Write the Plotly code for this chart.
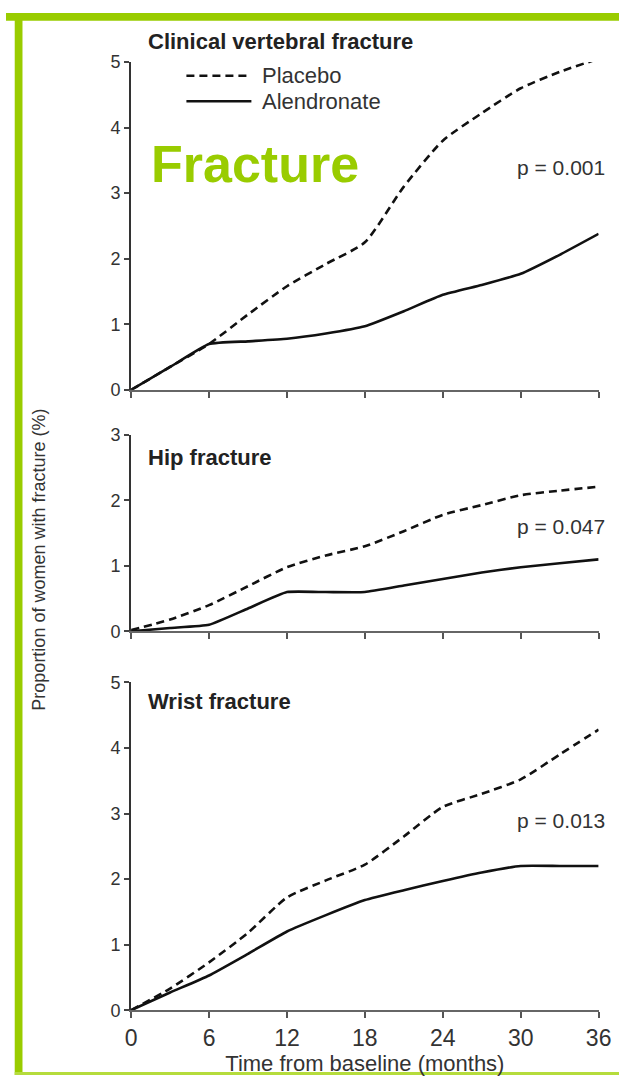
import plotly.graph_objects as go

# ---------------- data ----------------
months = [0, 3, 6, 9, 12, 15, 18, 21, 24, 27, 30, 33, 36]
x_ticks = [0, 6, 12, 18, 24, 30, 36]

vert_placebo = [0, 0.35, 0.7, 1.15, 1.58, 1.92, 2.25, 3.1, 3.8, 4.22, 4.6, 4.85, 5.05]
vert_alendronate = [0, 0.35, 0.7, 0.74, 0.78, 0.86, 0.97, 1.2, 1.45, 1.6, 1.77, 2.06, 2.38]

hip_placebo = [0.02, 0.18, 0.4, 0.69, 0.98, 1.16, 1.3, 1.53, 1.78, 1.93, 2.08, 2.15, 2.21]
hip_alendronate = [0, 0.05, 0.1, 0.35, 0.6, 0.6, 0.6, 0.7, 0.8, 0.9, 0.98, 1.04, 1.1]

wrist_placebo = [0, 0.33, 0.73, 1.18, 1.72, 1.98, 2.22, 2.65, 3.1, 3.3, 3.52, 3.9, 4.28]
wrist_alendronate = [0, 0.27, 0.53, 0.86, 1.2, 1.45, 1.68, 1.83, 1.97, 2.1, 2.2, 2.2, 2.2]

panel_titles = ["Clinical vertebral fracture", "Hip fracture", "Wrist fracture"]
p_values = ["p = 0.001", "p = 0.047", "p = 0.013"]
y_maxes = [5, 3, 5]
series_names = ["Placebo", "Alendronate"]

# ---------------- layout helpers ----------------
W, H = 632, 1085
def px(x):
    return x / W
def py(y):
    return 1 - y / H

FONT = "Liberation Sans, Arial, sans-serif"
GREEN = "#99cc00"

# pixel extents of each panel (top, bottom) and the shared x extent
panel_pix = [(53, 387), (433, 633), (685, 1019)]
x_left, x_right = 129, 611

fig = go.Figure()
panels = [(vert_placebo, vert_alendronate), (hip_placebo, hip_alendronate),
          (wrist_placebo, wrist_alendronate)]

for i, (plac, alen) in enumerate(panels):
    xa = "x" if i == 0 else f"x{i+1}"
    ya = "y" if i == 0 else f"y{i+1}"
    fig.add_trace(go.Scatter(x=months, y=plac, mode="lines", name=series_names[0],
                             line=dict(color="#111", width=2.6, dash="8px,5px",
                                       shape="spline", smoothing=0.6),
                             xaxis=xa, yaxis=ya, showlegend=False))
    fig.add_trace(go.Scatter(x=months, y=alen, mode="lines", name=series_names[1],
                             line=dict(color="#111", width=2.6, shape="spline", smoothing=0.4),
                             xaxis=xa, yaxis=ya, showlegend=False))

layout = dict(width=W, height=H, margin=dict(l=0, r=0, t=0, b=0),
              paper_bgcolor="white", plot_bgcolor="white", showlegend=False)

for i in range(3):
    top, bot = panel_pix[i]
    xkey = "xaxis" if i == 0 else f"xaxis{i+1}"
    ykey = "yaxis" if i == 0 else f"yaxis{i+1}"
    yname = "y" if i == 0 else f"y{i+1}"
    xname = "x" if i == 0 else f"x{i+1}"
    layout[xkey] = dict(domain=[px(x_left), px(x_right)], range=[0, 36],
                        anchor=yname, tickvals=x_ticks, ticktext=[str(t) for t in x_ticks],
                        showticklabels=(i == 2), ticks="outside", ticklen=6, tickwidth=2,
                        tickcolor="#555", showline=True, linecolor="#666", linewidth=2,
                        showgrid=False, zeroline=False,
                        tickfont=dict(family=FONT, size=23, color="#333"))
    layout[ykey] = dict(domain=[py(bot), py(top)], range=[0, y_maxes[i]], anchor=xname,
                        tickvals=list(range(y_maxes[i] + 1)), ticks="outside", ticklen=5,
                        tickwidth=1.5, tickcolor="#444", showline=True, linecolor="#333",
                        linewidth=2, showgrid=False, zeroline=False,
                        tickfont=dict(family=FONT, size=18, color="#333"))

layout["xaxis3"]["title"] = dict(text="Time from baseline (months)",
                                 font=dict(family=FONT, size=22, color="#333"), standoff=4)
fig.update_layout(**layout)

annotations = []
title_y = [32, 456, 704]
p_y = [160, 526, 826]
for i in range(3):
    annotations.append(dict(text=f"<b>{panel_titles[i]}</b>", x=px(144), y=py(title_y[i]),
                            xref="paper", yref="paper", xanchor="left", yanchor="middle",
                            showarrow=False, font=dict(family=FONT, size=22, color="#222")))
    annotations.append(dict(text=p_values[i], x=px(620), y=py(p_y[i]),
                            xref="paper", yref="paper", xanchor="right", yanchor="middle",
                            showarrow=False, font=dict(family=FONT, size=21, color="#333")))

# legend text
legend_y = [67, 93]
for name, ly in zip(series_names, legend_y):
    annotations.append(dict(text=name, x=px(262), y=py(ly), xref="paper", yref="paper",
                            xanchor="left", yanchor="middle", showarrow=False,
                            font=dict(family=FONT, size=22, color="#333")))

# big overlay word
annotations.append(dict(text="<b>Fracture</b>", x=px(257), y=py(157), xref="paper", yref="paper",
                        xanchor="center", yanchor="middle", showarrow=False,
                        font=dict(family=FONT, size=52, color=GREEN)))

# y-axis title
annotations.append(dict(text="Proportion of women with fracture (%)", x=px(34), y=py(560),
                        xref="paper", yref="paper", xanchor="center", yanchor="middle",
                        textangle=-90, showarrow=False,
                        font=dict(family=FONT, size=18, color="#333")))

shapes = [
    # legend samples
    dict(type="line", xref="paper", yref="paper", x0=px(186), x1=px(253), y0=py(67), y1=py(67),
         line=dict(color="#111", width=2.4, dash="8px,5px")),
    dict(type="line", xref="paper", yref="paper", x0=px(186), x1=px(253), y0=py(93), y1=py(93),
         line=dict(color="#111", width=2.4)),
    # green frame
    dict(type="rect", xref="paper", yref="paper", x0=0, x1=1, y0=py(11), y1=py(3),
         fillcolor=GREEN, line=dict(width=0)),
    dict(type="rect", xref="paper", yref="paper", x0=px(9), x1=px(17), y0=0, y1=py(3),
         fillcolor=GREEN, line=dict(width=0)),
    dict(type="rect", xref="paper", yref="paper", x0=px(9), x1=1, y0=0, y1=py(1082),
         fillcolor="#b5dc3c", line=dict(width=0)),
]

fig.update_layout(annotations=annotations, shapes=shapes)

post = ("document.documentElement.style.margin='0';"
        "document.documentElement.style.overflow='hidden';"
        "document.body.style.margin='0';document.body.style.overflow='hidden';"
        "var d=document.getElementById('{plot_id}');"
        "d.style.position='fixed';d.style.top='0px';d.style.left='0px';")
fig.write_html("out.html", config={"displayModeBar": False}, post_script=post)
